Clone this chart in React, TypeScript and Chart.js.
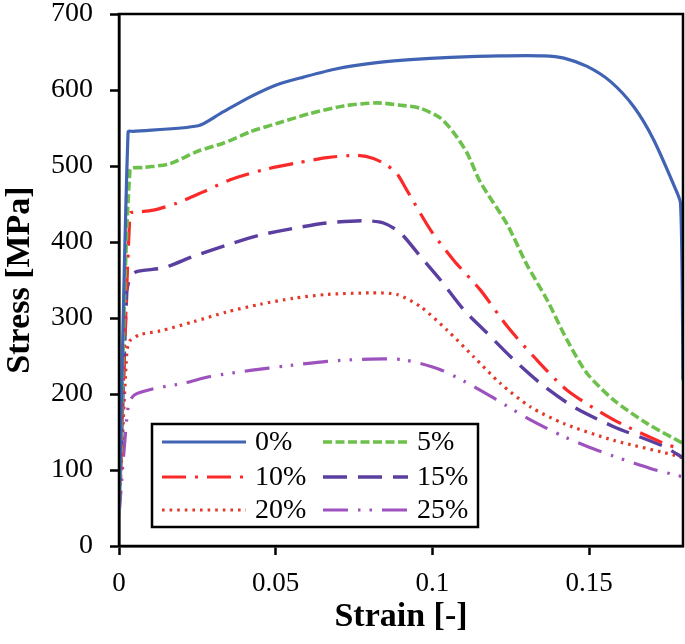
import React, { useEffect, useRef } from "react";
import { Chart, registerables } from "chart.js";

Chart.register(...registerables);

const seriesLabels = ["0%", "5%", "10%", "15%", "20%", "25%"];

const s0x = [0, 0.0029, 0.0045, 0.0253, 0.0323, 0.0419, 0.0504, 0.0589, 0.0695, 0.0823, 0.093, 0.1058, 0.1217, 0.1356, 0.142, 0.1494, 0.1569, 0.1643, 0.1707, 0.1782, 0.1792, 0.1797, 0.18];
const s0y = [40, 545, 545.6, 553, 569, 591, 607, 617, 628, 636, 640, 643, 645, 645, 642, 631, 611, 578, 534, 464, 451, 363, 218];

const s5x = [0, 0.0035, 0.0078, 0.0163, 0.0248, 0.0333, 0.0419, 0.0504, 0.061, 0.0717, 0.0823, 0.0898, 0.0962, 0.1026, 0.1068, 0.1111, 0.1153, 0.1239, 0.1302, 0.1366, 0.143, 0.1494, 0.1579, 0.1686, 0.18];
const s5y = [40, 495, 498, 503, 519, 530, 545, 556, 569, 579, 583, 580, 576, 563, 544, 517, 479, 423, 370, 324, 271, 227, 192, 161, 135];

const s10x = [0, 0.0035, 0.005, 0.011, 0.0184, 0.0269, 0.0355, 0.0461, 0.0568, 0.0664, 0.0759, 0.0812, 0.0855, 0.0887, 0.0919, 0.0994, 0.1068, 0.1153, 0.1239, 0.1324, 0.143, 0.1579, 0.1739, 0.18];
const s10y = [40, 438, 439, 442, 451, 466, 482, 495, 504, 511, 514, 510, 501, 490, 468, 416, 376, 337, 289, 249, 205, 166, 135, 127];

const s15x = [0, 0.0025, 0.0035, 0.0056, 0.0142, 0.0237, 0.0344, 0.045, 0.0557, 0.0664, 0.078, 0.0844, 0.0898, 0.0962, 0.1026, 0.11, 0.1175, 0.126, 0.1345, 0.1451, 0.1579, 0.1739, 0.18];
const s15y = [40, 335, 352, 361, 366, 381, 396, 409, 418, 425, 428, 425, 412, 381, 350, 311, 280, 245, 214, 183, 157, 131, 116];

const s20x = [0, 0.0025, 0.0035, 0.0067, 0.0131, 0.0237, 0.0344, 0.045, 0.0557, 0.0664, 0.0802, 0.0887, 0.0962, 0.1047, 0.1132, 0.1217, 0.1313, 0.142, 0.1579, 0.1792, 0.18];
const s20y = [40, 255, 270, 278, 283, 295, 308, 318, 326, 331, 333, 331, 315, 284, 249, 214, 183, 161, 139, 117, 110];

const s25x = [0, 0.003, 0.005, 0.011, 0.0205, 0.0291, 0.0419, 0.0536, 0.0664, 0.0802, 0.0908, 0.1026, 0.1132, 0.1207, 0.1313, 0.142, 0.1526, 0.1696, 0.18];
const s25y = [40, 186, 199, 207, 214, 223, 231, 237, 243, 246, 245, 232, 210, 192, 166, 144, 126, 102, 91];

const xTickValues = [0, 0.05, 0.1, 0.15];
const yTickValues = [0, 100, 200, 300, 400, 500, 600, 700];

const colors = ["#4163B3", "#6DC04B", "#FA2A2A", "#5B3FA0", "#E2392B", "#9D52BD"];
const dashes: number[][] = [[], [9, 3.5], [24, 9, 3, 9], [24, 11], [2.6, 5], [25, 10, 2.5, 9, 2.5, 10]];
const widths = [3.2, 3.6, 3.2, 3.4, 3.2, 3.2];

const toPts = (xs: number[], ys: number[]) => xs.map((x, i) => ({ x, y: ys[i] }));
const seriesData = [toPts(s0x, s0y), toPts(s5x, s5y), toPts(s10x, s10y), toPts(s15x, s15y), toPts(s20x, s20y), toPts(s25x, s25y)];

const SERIF = "'Liberation Serif', 'Times New Roman', serif";

const boxPlugin = {
  id: "boxPlugin",
  afterDatasetsDraw(chart: any) {
    const { ctx, chartArea } = chart;
    ctx.save();
    ctx.strokeStyle = "#000";
    ctx.lineWidth = 2.5;
    ctx.strokeRect(chartArea.left, chartArea.top, chartArea.right - chartArea.left, chartArea.bottom - chartArea.top);
    ctx.restore();
  },
};

const legendPlugin = {
  id: "customLegend",
  afterDatasetsDraw(chart: any) {
    const { ctx } = chart;
    const bx = 152, by = 424, bw = 326, bh = 103;
    ctx.save();
    ctx.fillStyle = "#fff";
    ctx.fillRect(bx, by, bw, bh);
    ctx.strokeStyle = "#000";
    ctx.lineWidth = 2.5;
    ctx.strokeRect(bx, by, bw, bh);
    const rows = [442, 477, 510];
    const cols = [{ l0: 162, l1: 246, t: 255 }, { l0: 323, l1: 408, t: 417 }];
    chart.data.datasets.forEach((ds: any, i: number) => {
      const r = Math.floor(i / 2);
      const c = cols[i % 2];
      const y = rows[r];
      ctx.beginPath();
      ctx.setLineDash(ds.borderDash || []);
      ctx.strokeStyle = ds.borderColor;
      ctx.lineWidth = ds.borderWidth;
      ctx.moveTo(c.l0, y);
      ctx.lineTo(c.l1, y);
      ctx.stroke();
      ctx.setLineDash([]);
      ctx.fillStyle = "#000";
      ctx.font = `28px ${SERIF}`;
      ctx.textBaseline = "middle";
      ctx.textAlign = "left";
      ctx.fillText(ds.label, c.t, y + 1);
    });
    ctx.restore();
  },
};

export default function App() {
  const ref = useRef<HTMLCanvasElement>(null);
  useEffect(() => {
    if (!ref.current) return;
    const chart = new Chart(ref.current, {
      type: "line",
      data: {
        datasets: seriesLabels.map((label, i) => ({
          label,
          data: seriesData[i],
          borderColor: colors[i],
          backgroundColor: colors[i],
          borderDash: dashes[i],
          borderWidth: widths[i],
          pointRadius: 0,
          tension: 0.25,
          fill: false,
        })),
      },
      options: {
        responsive: false,
        animation: false,
        layout: { padding: { top: 14, right: 2, left: 0, bottom: 0 } },
        plugins: { legend: { display: false }, tooltip: { enabled: false } },
        scales: {
          x: {
            type: "linear",
            min: 0,
            max: 0.18,
            afterFit: (s: any) => {
              s.height = 98;
              s.paddingLeft = 0;
              s.paddingRight = 0;
              s.paddingTop = 0;
              s.paddingBottom = 0;
            },
            afterBuildTicks: (s: any) => { s.ticks = xTickValues.map((v) => ({ value: v })); },
            border: { display: true, color: "#000", width: 2.5 },
            grid: { drawOnChartArea: false, drawTicks: true, tickLength: 9, tickWidth: 2.5, tickColor: "#000" },
            ticks: {
              padding: 13,
              color: "#000",
              font: { family: SERIF, size: 27 },
              maxRotation: 0,
              callback: (v: any) => String(v),
            },
            title: {
              display: true,
              text: "Strain [-]",
              color: "#000",
              font: { family: SERIF, size: 34, weight: "bold" },
              padding: { top: 0, bottom: 6 },
            },
          },
          y: {
            type: "linear",
            min: 0,
            max: 700,
            afterFit: (s: any) => {
              s.width = 119;
              s.paddingLeft = 0;
              s.paddingRight = 0;
              s.paddingTop = 0;
              s.paddingBottom = 0;
            },
            afterBuildTicks: (s: any) => { s.ticks = yTickValues.map((v) => ({ value: v })); },
            border: { display: true, color: "#000", width: 2.5 },
            grid: { drawOnChartArea: false, drawTicks: true, tickLength: 9, tickWidth: 2.5, tickColor: "#000" },
            ticks: {
              padding: 17,
              color: "#000",
              font: { family: SERIF, size: 28 },
              callback: (v: any) => String(v),
            },
            title: {
              display: true,
              text: "Stress [MPa]",
              color: "#000",
              font: { family: SERIF, size: 34, weight: "bold" },
              padding: { top: 0, bottom: 0 },
            },
          },
        },
      },
      plugins: [boxPlugin, legendPlugin],
    });
    return () => chart.destroy();
  }, []);
  return (
    <div style={{ position: "absolute", left: 0, top: 0, width: 685, height: 644, background: "#fff" }}>
      <canvas ref={ref} width={685} height={644} />
    </div>
  );
}
